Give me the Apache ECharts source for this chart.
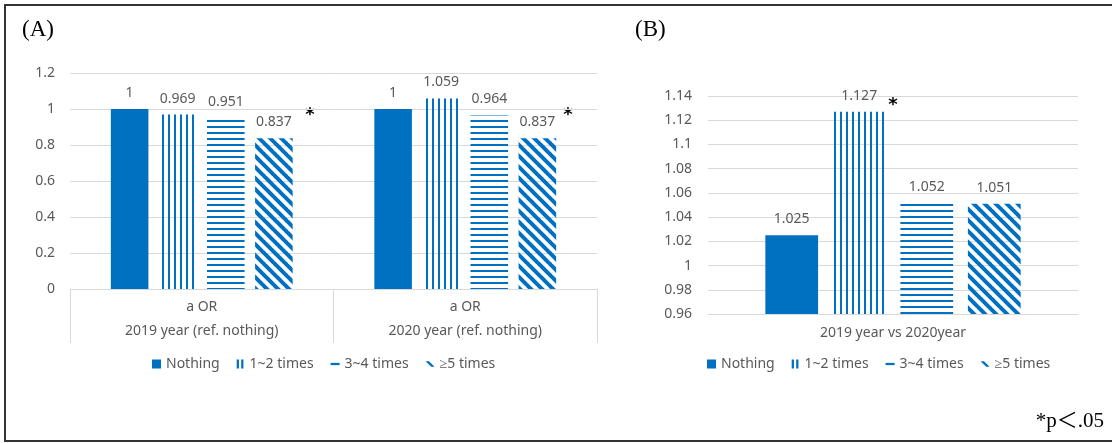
<!DOCTYPE html>
<html>
<head>
<meta charset="utf-8">
<script src="https://cdn.jsdelivr.net/npm/echarts@6/dist/echarts.min.js"></script>
<style>
  html, body { margin: 0; padding: 0; background: #fff; }
  #chart { width: 1112px; height: 443px; }
</style>
</head>
<body>
<div id="chart"></div>
<script>
// ---- data ----
const seriesNames = ['Nothing', '1~2 times', '3~4 times', '≥5 times'];

// (A) adjusted odds ratios by year, reference = nothing
const measureA = 'a OR';
const categoriesA = ['2019 year (ref. nothing)', '2020 year (ref. nothing)'];
const nothingA = [1, 1];
const times12A = [0.969, 1.059];
const times34A = [0.951, 0.964];
const times5A = [0.837, 0.837];

// (B) 2019 vs 2020
const categoriesB = ['2019 year vs 2020year'];
const nothingB = [1.025];
const times12B = [1.127];
const times34B = [1.052];
const times5B = [1.051];

const yTicksA = { min: 0, max: 1.2, interval: 0.2 };
const yTicksB = { min: 0.96, max: 1.14, interval: 0.02 };

// ---- styling ----
const BLUE = '#0070C0';
const GREY_TEXT = '#595959';
const GRID_LINE = '#d9d9d9';
const FONT = 'Noto Sans';
const FS = 14;

// Line-pattern fills for the hatched bars
function makePattern(kind) {
  const c = document.createElement('canvas');
  const ctx = c.getContext('2d');
  if (kind === 'vertical') {
    c.width = 6; c.height = 6;
    ctx.fillStyle = BLUE;
    ctx.fillRect(0, 0, 2, 6);
  } else if (kind === 'horizontal') {
    c.width = 6; c.height = 6;
    ctx.fillStyle = BLUE;
    ctx.fillRect(0, 0, 6, 2);
  } else {
    const p = 11;
    c.width = p; c.height = p;
    ctx.strokeStyle = BLUE;
    ctx.lineWidth = 4;
    for (let k = -p; k <= p; k += p) {
      ctx.beginPath();
      ctx.moveTo(k - 1, -1);
      ctx.lineTo(k + p + 1, p + 1);
      ctx.stroke();
    }
  }
  return { image: c, repeat: 'repeat' };
}

const fills = [BLUE, makePattern('vertical'), makePattern('horizontal'), makePattern('diagonal')];

const legendIcons = [
  'rect',
  'path://M0,0h2v8h-2zM4,0h2v8h-2z',
  'path://M0,0h8v2h-8z',
  'path://M0,0L3,0L8,5L5,5Z'
];

function legendData() {
  return seriesNames.map((n, i) => ({ name: n, icon: legendIcons[i], itemStyle: { color: BLUE } }));
}

function barSeries(name, data, idx, axisIdx) {
  return {
    name: name,
    type: 'bar',
    xAxisIndex: axisIdx,
    yAxisIndex: axisIdx,
    data: data,
    barGap: '28%',
    barCategoryGap: '31%',
    itemStyle: { color: fills[idx] },
    label: {
      show: true,
      position: 'top',
      distance: 9,
      color: GREY_TEXT,
      fontSize: FS,
      fontFamily: FONT
    },
    emphasis: { disabled: true },
    animation: false
  };
}

const valuesA = [nothingA, times12A, times34A, times5A];
const valuesB = [nothingB, times12B, times34B, times5B];

const series = [];
seriesNames.forEach((n, i) => series.push(barSeries(n, valuesA[i], i, 0)));
seriesNames.forEach((n, i) => series.push(barSeries(n, valuesB[i], i, 1)));

const axisLabelStyle = { color: GREY_TEXT, fontSize: FS, fontFamily: FONT };

const legendCommon = {
  itemWidth: 9, itemHeight: 9, itemGap: 17,
  selectedMode: false,
  textStyle: { color: GREY_TEXT, fontSize: FS, fontFamily: FONT }
};

const starStyle = { text: '*', font: 'bold 18px "DejaVu Sans"', fill: '#000', align: 'center', verticalAlign: 'middle' };

const option = {
  animation: false,
  backgroundColor: '#fff',
  textStyle: { fontFamily: FONT },
  grid: [
    { left: 70, right: 515, top: 73, bottom: 154, outerBoundsMode: 'none', containLabel: false },
    { left: 708, right: 34, top: 96, bottom: 129, outerBoundsMode: 'none', containLabel: false }
  ],
  xAxis: [
    {
      type: 'category',
      gridIndex: 0,
      data: categoriesA.map(c => measureA + '\n' + c),
      axisLine: { show: true, lineStyle: { color: GRID_LINE, width: 1 } },
      axisTick: { show: true, length: 54, alignWithLabel: false, lineStyle: { color: GRID_LINE, width: 1 } },
      axisLabel: Object.assign({ margin: 6, lineHeight: 24, interval: 0 }, axisLabelStyle),
      splitLine: { show: false }
    },
    {
      type: 'category',
      gridIndex: 1,
      data: categoriesB,
      axisLine: { show: true, lineStyle: { color: GRID_LINE, width: 1 } },
      axisTick: { show: false },
      axisLabel: Object.assign({ margin: 12 }, axisLabelStyle),
      splitLine: { show: false }
    }
  ],
  yAxis: [
    {
      type: 'value',
      gridIndex: 0,
      min: yTicksA.min, max: yTicksA.max, interval: yTicksA.interval,
      axisLine: { show: false },
      axisTick: { show: false },
      axisLabel: Object.assign({ margin: 15 }, axisLabelStyle),
      splitLine: { show: true, lineStyle: { color: GRID_LINE, width: 1 } }
    },
    {
      type: 'value',
      gridIndex: 1,
      min: yTicksB.min, max: yTicksB.max, interval: yTicksB.interval,
      axisLine: { show: false },
      axisTick: { show: false },
      axisLabel: Object.assign({ margin: 16 }, axisLabelStyle),
      splitLine: { show: true, lineStyle: { color: GRID_LINE, width: 1 } }
    }
  ],
  legend: [
    Object.assign({ left: 147, top: 352, data: legendData() }, legendCommon),
    Object.assign({ left: 702, top: 352, data: legendData() }, legendCommon)
  ],
  graphic: [
    { type: 'rect', z: 100, silent: true,
      shape: { x: 5, y: 5, width: 1130, height: 436 },
      style: { fill: 'none', stroke: '#333', lineWidth: 2 } },
    { type: 'text', x: 22, y: 30, silent: true,
      style: { text: '(A)', font: '23px "Liberation Serif"', fill: '#000', verticalAlign: 'middle' } },
    { type: 'text', x: 635, y: 30, silent: true,
      style: { text: '(B)', font: '23px "Liberation Serif"', fill: '#000', verticalAlign: 'middle' } },
    { type: 'text', x: 1104, y: 421, silent: true,
      style: { text: '*p＜.05', font: '21px "Liberation Serif", "Noto Sans CJK KR"', fill: '#000', align: 'right', verticalAlign: 'middle' } },
    // significance markers
    { type: 'text', x: 310, y: 115, silent: true, style: starStyle },
    { type: 'text', x: 568, y: 115, silent: true, style: starStyle },
    { type: 'text', x: 893, y: 105, silent: true, style: starStyle }
  ],
  series: series
};

const chart = echarts.init(document.getElementById('chart'), null, { renderer: 'canvas' });
chart.setOption(option);
</script>
</body>
</html>
